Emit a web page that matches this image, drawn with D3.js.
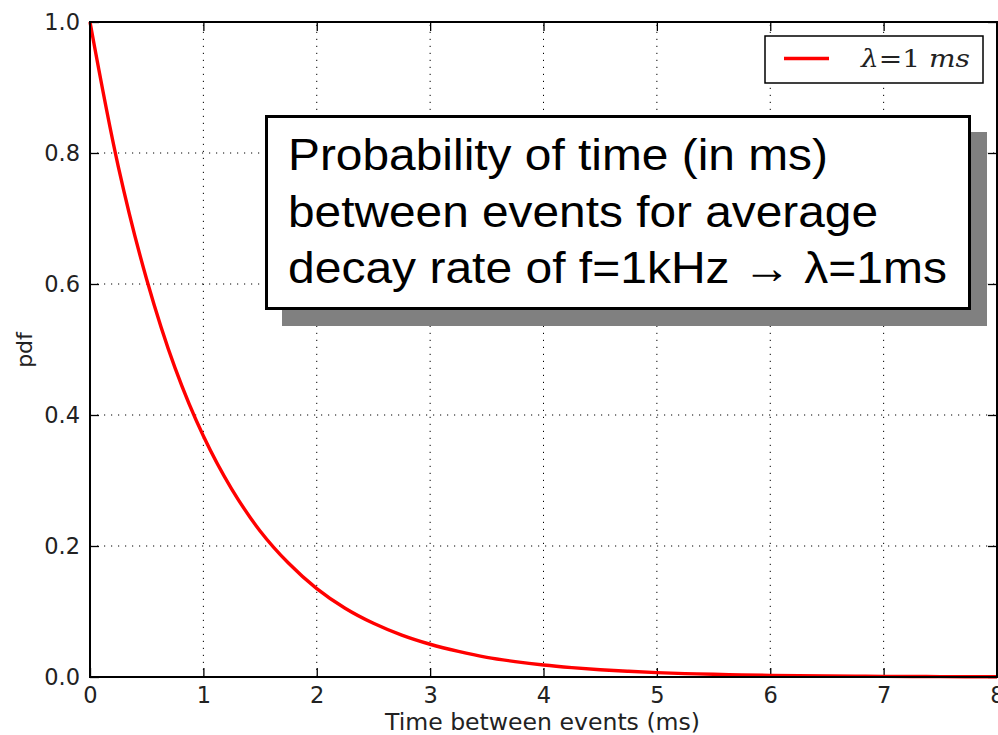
<!DOCTYPE html>
<html>
<head>
<meta charset="utf-8">
<script src="https://cdn.jsdelivr.net/npm/d3@7"></script>
<style>
    body { margin: 0; background: #fff; }
    svg { display: block; }
</style>
</head>
<body>
<div id="chart"></div>
<script>
// data
const time_ms = [0, 0.25, 0.5, 0.75, 1, 1.25, 1.5, 1.75, 2, 2.25, 2.5, 2.75, 3, 3.25, 3.5, 3.75, 4,
    4.25, 4.5, 4.75, 5, 5.25, 5.5, 5.75, 6, 6.25, 6.5, 6.75, 7, 7.25, 7.5, 7.75, 8];
const pdf_values = [1.0, 0.779, 0.607, 0.472, 0.368, 0.287, 0.223, 0.174, 0.135, 0.105, 0.082, 0.064, 0.050,
    0.039, 0.030, 0.0235, 0.0183, 0.0143, 0.0111, 0.0087, 0.0067, 0.0052, 0.0041, 0.0032, 0.0025,
    0.0019, 0.0015, 0.0012, 0.0009, 0.0007, 0.0006, 0.0004, 0.0003];
const x_ticks = [0, 1, 2, 3, 4, 5, 6, 7, 8];
const y_ticks = [0.0, 0.2, 0.4, 0.6, 0.8, 1.0];
const legend_label = ["\u03BB", "=1 ", "ms"];
const note_lines = [
    "Probability of time (in ms)",
    "between events for average",
    "decay rate of f=1kHz \u2192 \u03BB=1ms"
];
const note_widths = [540, 590, 659];

let _width = 998;
let _height = 735;
let _margin = { left: 90, right: 1, top: 22, bottom: 58 };

let _svg = d3.select("#chart")
    .append("svg")
    .attr("width", _width)
    .attr("height", _height);

let x = d3.scaleLinear().domain([0, 8]).range([_margin.left, _width - _margin.right]);
let y = d3.scaleLinear().domain([0, 1]).range([_height - _margin.bottom, _margin.top]);

let _tick_font = "'DejaVu Sans', sans-serif";
let _tick_size = "22.5px";

// grid
let _grid = _svg.append("g")
    .attr("stroke", "#000")
    .attr("stroke-width", 1)
    .attr("stroke-dasharray", "1.2,5.8");

_grid.selectAll("line.gx")
    .data(x_ticks.slice(1, -1))
    .join("line")
    .attr("class", "gx")
    .attr("x1", d => x(d)).attr("x2", d => x(d))
    .attr("y1", y(0)).attr("y2", y(1));

_grid.selectAll("line.gy")
    .data(y_ticks.slice(1, -1))
    .join("line")
    .attr("class", "gy")
    .attr("x1", x(0)).attr("x2", x(8))
    .attr("y1", d => y(d)).attr("y2", d => y(d));

// axes, ticks inward on all four sides
let _tick_len = 9;

let _x_bottom = _svg.append("g")
    .attr("transform", "translate(0," + y(0) + ")")
    .call(d3.axisBottom(x).tickValues(x_ticks).tickFormat(d3.format("d")).tickSizeInner(-_tick_len).tickSizeOuter(0).tickPadding(10));

let _x_top = _svg.append("g")
    .attr("transform", "translate(0," + y(1) + ")")
    .call(d3.axisTop(x).tickValues(x_ticks).tickFormat("").tickSizeInner(-_tick_len).tickSizeOuter(0));

let _y_left = _svg.append("g")
    .attr("transform", "translate(" + x(0) + ",0)")
    .call(d3.axisLeft(y).tickValues(y_ticks).tickFormat(d3.format(".1f")).tickSizeInner(-_tick_len).tickSizeOuter(0).tickPadding(10));

let _y_right = _svg.append("g")
    .attr("transform", "translate(" + x(8) + ",0)")
    .call(d3.axisRight(y).tickValues(y_ticks).tickFormat("").tickSizeInner(-_tick_len).tickSizeOuter(0));

[_x_bottom, _x_top, _y_left, _y_right].forEach(a => {
    a.select(".domain").remove();
    a.selectAll(".tick line").attr("stroke", "#000").attr("stroke-width", 1.3);
    a.selectAll(".tick text")
        .attr("fill", "#222")
        .style("font-family", _tick_font)
        .style("font-size", _tick_size);
});

// curve
let _line = d3.line()
    .x((d, i) => x(time_ms[i]))
    .y(d => y(d))
    .curve(d3.curveCatmullRom);

_svg.append("path")
    .datum(pdf_values)
    .attr("d", _line)
    .attr("fill", "none")
    .attr("stroke", "#ff0000")
    .attr("stroke-width", 3.4);

// frame
_svg.append("rect")
    .attr("x", x(0))
    .attr("y", y(1))
    .attr("width", x(8) - x(0))
    .attr("height", y(0) - y(1))
    .attr("fill", "none")
    .attr("stroke", "#000")
    .attr("stroke-width", 2);

// axis labels
_svg.append("text")
    .attr("x", 385)
    .attr("y", 730)
    .attr("textLength", 315)
    .attr("lengthAdjust", "spacingAndGlyphs")
    .style("font-family", _tick_font)
    .style("font-size", "23.5px")
    .attr("fill", "#222")
    .text("Time between events (ms)");

_svg.append("text")
    .attr("transform", "translate(32,350) rotate(-90)")
    .attr("text-anchor", "middle")
    .style("font-family", _tick_font)
    .style("font-size", "22px")
    .attr("fill", "#222")
    .text("pdf");

// legend
let _legend = _svg.append("g");

_legend.append("rect")
    .attr("x", 765).attr("y", 36)
    .attr("width", 218).attr("height", 47)
    .attr("fill", "#fff")
    .attr("stroke", "#000")
    .attr("stroke-width", 1.5);

_legend.append("line")
    .attr("x1", 784).attr("x2", 829)
    .attr("y1", 58.5).attr("y2", 58.5)
    .attr("stroke", "#ff0000")
    .attr("stroke-width", 3.4);

let _legend_text = _legend.append("text")
    .attr("x", 861).attr("y", 67)
    .attr("textLength", 109)
    .attr("lengthAdjust", "spacingAndGlyphs")
    .style("font-family", "'DejaVu Serif', 'Liberation Serif', serif")
    .style("font-size", "25px")
    .attr("fill", "#222");

_legend_text.append("tspan").style("font-style", "italic").text(legend_label[0]);
_legend_text.append("tspan").text(legend_label[1]);
_legend_text.append("tspan").style("font-style", "italic").text(legend_label[2]);

// annotation box with shadow
let _note = _svg.append("g");

_note.append("rect")
    .attr("x", 282).attr("y", 132)
    .attr("width", 705).attr("height", 194)
    .attr("fill", "#808080");

_note.append("rect")
    .attr("x", 266.5).attr("y", 116.5)
    .attr("width", 703).attr("height", 192)
    .attr("fill", "#fff")
    .attr("stroke", "#000")
    .attr("stroke-width", 3);

_note.selectAll("text")
    .data(note_lines)
    .join("text")
    .attr("x", 288)
    .attr("y", (d, i) => 170 + i * 56.5)
    .attr("textLength", (d, i) => note_widths[i])
    .attr("lengthAdjust", "spacingAndGlyphs")
    .style("font-family", "'Liberation Sans', Arial, sans-serif")
    .style("font-size", "45px")
    .attr("fill", "#000")
    .text(d => d);
</script>
</body>
</html>
